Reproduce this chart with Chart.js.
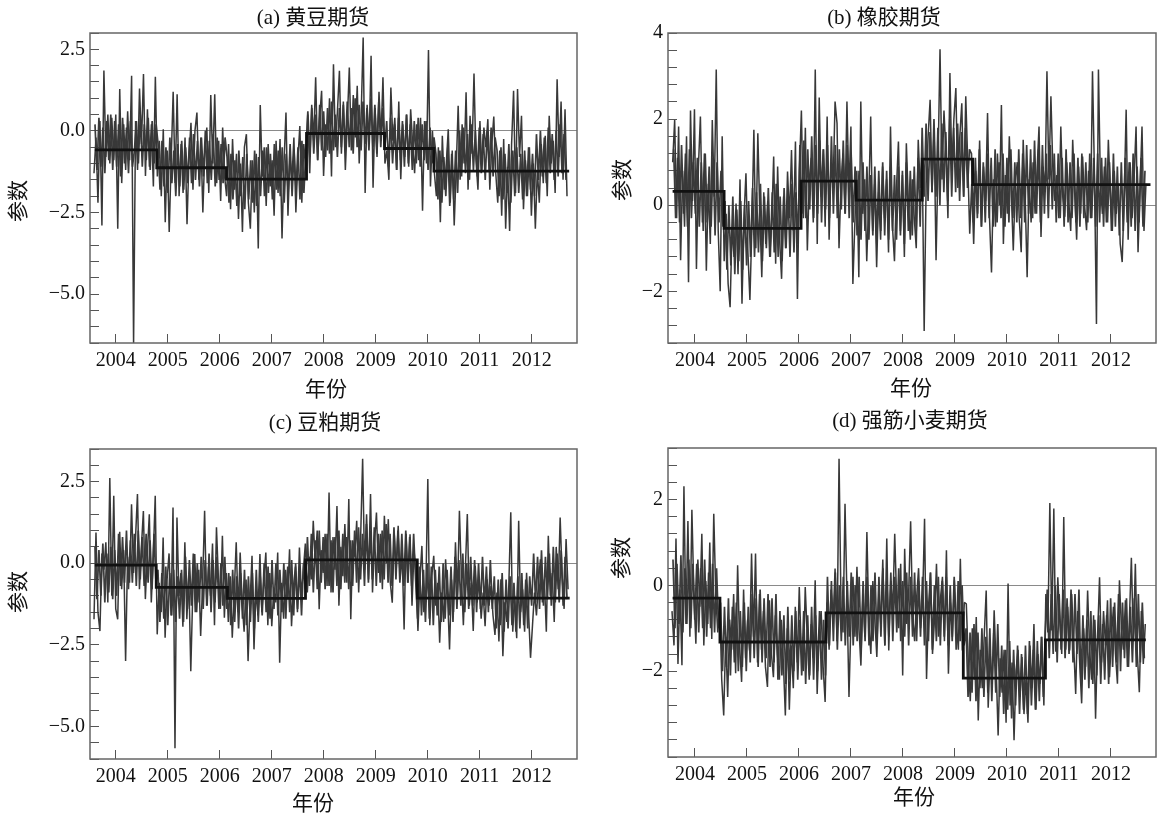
<!DOCTYPE html>
<html>
<head>
<meta charset="utf-8">
<script src="https://cdn.jsdelivr.net/npm/chart.js@4.4.1/dist/chart.umd.min.js"></script>
<style>
  body { margin: 0; background: #fff; width: 1163px; height: 814px; position: relative; overflow: hidden;
         font-family: 'Liberation Serif', 'Noto Sans CJK SC', serif; color: #111; }
  canvas { position: absolute; left: 0; top: 0; }
  .t { position: absolute; transform: translate(-50%, -50%); white-space: nowrap; font-size: 21px; line-height: 1; }
  .r { transform: translate(-50%, -50%) rotate(-90deg); }
</style>
</head>
<body>
<canvas id="ca" width="1163" height="814"></canvas>
<canvas id="cb" width="1163" height="814"></canvas>
<canvas id="cc" width="1163" height="814"></canvas>
<canvas id="cd" width="1163" height="814"></canvas>

<div class="t" style="left:313px;top:17px">(a) 黄豆期货</div>
<div class="t" style="left:884px;top:17px">(b) 橡胶期货</div>
<div class="t" style="left:325px;top:422px">(c) 豆粕期货</div>
<div class="t" style="left:910px;top:420px">(d) 强筋小麦期货</div>

<div class="t" style="left:326px;top:389px">年份</div>
<div class="t" style="left:911px;top:388px">年份</div>
<div class="t" style="left:313px;top:803px">年份</div>
<div class="t" style="left:914px;top:797px">年份</div>

<div class="t r" style="left:18px;top:201px">参数</div>
<div class="t r" style="left:622px;top:180px">参数</div>
<div class="t r" style="left:18px;top:592px">参数</div>
<div class="t r" style="left:621px;top:558px">参数</div>

<script>
// year tick labels shared by all four panels
const years = [2004, 2005, 2006, 2007, 2008, 2009, 2010, 2011, 2012];

// (a) 黄豆期货 - parameter series, outer swings (evenly spaced in time)
const soyVals = [
  -1.3, -0.2, -2.2, 0.3, -2.9, 1.85, -0.8, 0.5, -1.0, 0.4,
  -0.9, 0.5, -3.0, 1.28, -1.6, 0.2, -1.2, 0.6, -0.9, 1.69,
  -6.5,
  0.3, -1.2, 1.3, -0.4, 1.74, -1.38, 0.66, -1.1, 0.2, -1.7, 1.66,
  -1.4, -0.3, -2.0, 0.05, -2.8, -0.6, -3.1, -0.9, 1.2, -1.6, 1.12, -2.0, -0.4, -1.9, -0.2, -2.86,
  -0.8, 0.25, -1.8, 0.0, 0.56, -1.5, -0.2, -2.5, -0.6, 0.1, -1.9, 1.1, -1.0, 1.12, -1.6, -0.3, -2.15, 0.1, -1.4,
  -2.0, -0.4, -2.4, -0.25, -1.8, -0.7, -2.7, -1.0, -3.1, -0.5, -0.1, -2.2, -3.0, -0.9, -2.5, -0.7, -3.6, 0.79,
  -1.4, -0.5, -2.3, -0.4, -1.7, -0.9, -2.6, -0.3, -1.9, -0.25, -3.3, -1.0, 0.56, -2.6, -0.8, -1.5, -0.2, -2.5, -0.9, 0.15, -2.2, -0.4, -1.2,
  0.5, -1.3, 0.8, -0.3, 1.64, -0.9, 0.4, 1.23, -1.38, 0.2, -0.6, 1.0, -1.4, 2.04, -0.5, 0.6, 1.84, -0.7,
  0.9, -1.2, 0.3, 1.94, -0.6, 1.1, -0.2, 1.38, -1.0, 0.5, 2.86, -1.9, 0.8, -0.4, 2.3, -1.74, 0.7, -0.8, 1.2, -0.3, 1.64, -1.0,
  -0.6, -1.5, 1.33, -0.3, 0.4, -1.2, 0.9, -1.48, 0.2, -0.8, 0.5, -1.1, 0.66, -0.4, -1.3, 0.2, -0.9, 0.4, -2.45, 0.3, -1.0, 2.48, -1.7, 0.0, -1.3,
  -2.0, -0.5, -2.8, -0.15, -1.8, -1.0, 0.05, -2.2, -0.6, -2.9, -1.2, 0.77,
  -1.5, 0.2, -1.0, 1.18, -1.8, 0.46, -0.7, 1.76, -0.9, -1.8, 0.3, -1.2, 0.1, -0.5, 0.36, -1.8, -0.4, 0.44, -1.3,
  -2.2, -0.6, -2.6, -0.25, -3.0, -1.1, -3.07, -0.4, 1.23, -1.9, 1.28, -0.8, 0.46, -2.4, -0.9, -2.0, -0.5, -2.6, -1.0, -3.0,
  -1.2, -2.2, -0.4, -1.6, -0.15, -2.0, 0.46, -1.0, -0.3, -1.9, 1.58, -0.8, 0.9, -1.5, 0.66, -2.0
];
// dense core of the band (readings in between)
const soyCore = [
  0.2, -1.2, 0.4, -1.1, 0.1, -1.3, 0.3, -0.9, 0.5, -1.2,
  0.3, -1.1, 0.2, -1.4, 0.4, -1.0, 0.1, -1.3, 0.3, -1.1,
  -0.6,
  0.3, -1.0, 0.5, -1.1, 0.2, -0.9, 0.4, -1.2, 0.3, -1.0, 0.2,
  -0.4, -1.8, -0.3, -1.7, -0.5, -1.9, -0.2, -1.6, -0.6, -2.0, -0.4, -1.7, -0.3, -1.8, -0.5, -1.6,
  -0.2, -1.6, -0.1, -1.5, -0.3, -1.7, -0.2, -1.4, 0.0, -1.6, -0.3, -1.5, -0.1, -1.7, -0.2, -1.5, -0.4, -1.6, -0.2,
  -0.8, -2.2, -0.7, -2.1, -0.9, -2.3, -0.6, -2.0, -0.8, -2.4, -0.7, -2.1, -0.9, -2.2, -0.6, -2.3, -0.8, -2.0,
  -0.6, -2.0, -0.5, -1.9, -0.7, -2.1, -0.4, -1.8, -0.6, -2.0, -0.5, -2.2, -0.7, -1.9, -0.4, -2.0, -0.6, -1.8, -0.5, -2.1, -0.3, -1.9, -0.6,
  0.6, -0.8, 0.7, -0.7, 0.5, -0.9, 0.8, -0.6, 0.6, -0.8, 0.7, -0.7, 0.9, -0.6, 0.5, -0.8, 0.7, -0.5,
  0.8, -0.6, 0.9, -0.5, 0.7, -0.7, 1.0, -0.5, 0.8, -0.6, 0.9, -0.4, 0.7, -0.6, 1.0, -0.5, 0.8, -0.7, 0.9, -0.5, 0.7, -0.6,
  0.3, -1.1, 0.4, -1.0, 0.2, -1.2, 0.4, -0.9, 0.3, -1.1, 0.5, -1.0, 0.2, -1.2, 0.3, -1.0, 0.4, -1.1, 0.2, -0.9, 0.3, -1.2, 0.1, -1.0, -0.2,
  -0.7, -2.1, -0.6, -2.2, -0.8, -2.0, -0.5, -2.3, -0.7, -2.1, -0.6, -1.9,
  0.0, -1.4, 0.1, -1.3, -0.1, -1.5, 0.2, -1.2, 0.0, -1.4, 0.1, -1.3, -0.1, -1.5, 0.0, -1.2, 0.1, -1.4, -0.2,
  -0.6, -2.0, -0.5, -2.1, -0.7, -1.9, -0.4, -2.2, -0.6, -2.0, -0.5, -1.9, -0.7, -2.1, -0.6, -2.0, -0.5, -1.8, -0.7, -2.0,
  -0.1, -1.5, 0.0, -1.4, -0.2, -1.6, 0.1, -1.3, -0.1, -1.5, 0.0, -1.4, 0.2, -1.3, -0.1, -1.5
];
const soySpan = [2003.583, 2012.679];
const soyCoreSpan = [2003.602, 2012.660];
const soyStepX = [2003.60, 2004.79, 2006.13, 2007.67, 2009.17, 2010.12, 2012.72];
const soyStepY = [-0.58, -1.13, -1.48, -0.08, -0.54, -1.23];

// (b) 橡胶期货
const rubberVals = [
  1.0, 1.98, -0.3, 1.83, -1.28, 0.8, -0.5, 1.6, -1.79, 2.2, 0.1, 2.23,
  -1.48, 0.9, 2.06, -0.4, 1.2, -1.52, 0.5, -0.9, 1.98, 0.2, 3.15, -0.6, -2.0, 1.6,
  -1.3, -0.2, -1.83, -2.37, -0.5, -1.2, 0.04, -1.6, 0.6, -2.29, -0.3, 0.74, -1.1, -2.2,
  -0.5, 1.75, -1.0, 1.67, -0.2, -1.67, 0.3, -0.9, 0.1, -1.2, -0.4, 1.13, -1.36, 0.9, -0.8, -1.71, 0.2, -1.0, 0.78, -0.3, 1.28, -0.6, 1.48, -2.18,
  0.8, 2.2, -0.3, 1.8, -1.05, 0.6, 1.1, -0.4, 3.15, -0.9, 2.5, 0.2, 1.3, -0.5, 2.06, -0.8, 1.0, 0.4, 2.41, 1.9, -1.0, 0.5, 1.2, -0.2, 2.41, 0.3, 1.83, -1.83,
  -0.4, 0.8, -1.67, 2.41, -0.2, 0.6, -1.3, 0.1, 2.06, -0.6, 0.5, -1.44, 0.3, -0.8, 0.9, -0.3, 0.6, -1.1, 1.83, -0.5, -1.3, 0.4, 1.48, -0.6, 0.7, -1.2, 1.44, 0.1, -0.8, 0.6, -0.3, -1.0, 1.52, 0.4,
  1.2, -2.92, 0.5, 1.6, 2.45, 0.3, 1.8, -1.28, 1.0, 3.62, 0.6, 2.2, 1.2, -0.3, 3.07, 0.8, 2.0, 2.72, 0.4, 1.6, 2.37, 0.2, 2.53, 1.0, -0.66,
  0.5, -0.9, 0.8, -0.2, 1.5, -0.5, 0.9, 0.1, 2.14, -0.3, -1.56, 0.6, -0.5, 1.2, 0.0, 2.33, -0.9, 0.7, -0.2, 1.6, 0.3, -1.05, 0.5, 1.0,
  -0.3, -1.09, 1.52, 0.2, -1.67, 0.6, -0.4, 1.0, -0.2, 0.8, 1.83, -0.74, 0.9, 0.3, 3.11, 0.6, 2.53, 0.8, 0.1,
  0.7, -0.3, 1.83, 0.2, -0.27, 1.0, 0.1, -0.6, 1.52, 0.3, -0.8, 0.9, -0.2, 1.13, 0.0, -0.58, 0.8, -0.3, 3.11, 0.7, -2.76, 3.15, 0.5, -0.2,
  0.9, -0.4, 1.52, 0.3, -0.6, 0.8, -0.2, 0.5, -0.9, -1.32, 0.2, 2.22, -0.8, 1.0, -0.3, 0.6, 1.83, -1.09, 0.4, 1.83, -0.6, 0.5
];
const rubberCore = [
  1.3, -0.3, 1.1, -0.4, 1.4, -0.2, 1.2, -0.5, 1.3, -0.3, 1.0, -0.2,
  1.1, -0.5, 1.0, -0.6, 1.2, -0.4, 0.9, -0.5, 1.1, -0.7, 1.0, -0.4, 0.8, -0.5,
  0.1, -1.5, 0.0, -1.4, 0.2, -1.6, -0.1, -1.3, 0.1, -1.5, 0.0, -1.4, 0.1, -1.2,
  0.4, -1.2, 0.3, -1.1, 0.5, -1.3, 0.2, -1.0, 0.4, -1.2, 0.3, -1.1, 0.5, -1.2, 0.2, -1.3, 0.4, -1.0, 0.3, -1.2, 0.5, -1.1, 0.3, -0.9,
  1.4, -0.2, 1.5, -0.3, 1.3, -0.1, 1.6, -0.3, 1.4, -0.2, 1.5, -0.4, 1.3, -0.1, 1.4, -0.3, 1.6, -0.2, 1.4, -0.3, 1.3, -0.1, 1.5, -0.2, 1.4, -0.3, 1.2, -0.4,
  0.9, -0.7, 0.8, -0.8, 1.0, -0.6, 0.9, -0.8, 0.7, -0.7, 0.9, -0.9, 0.8, -0.6, 1.0, -0.7, 0.8, -0.8, 0.9, -0.6, 0.7, -0.8, 0.9, -0.7, 0.8, -0.9, 1.0, -0.6, 0.8, -0.7, 0.9, -0.6, 1.1, -0.5,
  1.8, 0.2, 1.9, 0.1, 1.7, 0.3, 2.0, 0.2, 1.8, 0.0, 1.9, 0.3, 1.7, 0.1, 2.0, 0.2, 1.8, 0.3, 1.9, 0.1, 1.7, 0.2, 1.8, 0.4, 1.3,
  1.2, -0.4, 1.1, -0.3, 1.3, -0.5, 1.0, -0.4, 1.2, -0.3, 1.1, -0.5, 1.3, -0.4, 1.0, -0.3, 1.2, -0.5, 1.1, -0.4, 1.3, -0.3, 1.0, -0.4,
  1.3, -0.3, 1.2, -0.4, 1.4, -0.2, 1.3, -0.3, 1.5, -0.2, 1.3, -0.4, 1.4, -0.2, 1.2, -0.3, 1.4, -0.1, 1.2,
  -0.4, 1.2, -0.3, 1.1, -0.5, 1.3, -0.4, 1.0, -0.3, 1.2, -0.4, 1.1, -0.5, 1.2, -0.3, 1.0, -0.4, 1.2, -0.3, 1.1, -0.5, 1.2, -0.4, 1.1,
  -0.5, 1.1, -0.4, 1.0, -0.6, 1.2, -0.5, 0.9, -0.7, 1.0, -0.6, 1.1, -0.4, 1.0, -0.5, 1.2, -0.6, 0.9, -0.4, 1.1, -0.5, 0.8
];
const rubberSpan = [2003.571, 2012.673];
const rubberCoreSpan = [2003.590, 2012.654];
const rubberStepX = [2003.57, 2004.56, 2006.04, 2007.10, 2008.37, 2009.34, 2012.76];
const rubberStepY = [0.32, -0.54, 0.56, 0.12, 1.07, 0.48];

// (c) 豆粕期货
const mealVals = [
  -1.72, 0.94, -1.5, -2.08, 0.3, -0.2, 0.64, -1.2, 2.61, -1.0, 2.07, -1.4,
  -1.72, 0.96, -0.8, 0.4, -3.0, 0.2, -0.6, 1.81, -0.3, 0.74, 2.12, -0.8, 0.5, 1.6, -1.1, 0.3, 1.5, -1.2, 0.2, 2.07,
  -2.18, -0.6, -1.5, 0.79, -2.28, -0.5, 0.3, -1.6, 1.71, -5.67, 1.4, -1.0, -0.3, -1.95,
  0.64, -1.72, -0.4, -3.31, -0.9, 0.28, -1.5, -0.2, -2.23, -0.6, 1.61, -1.3, -0.1, -1.0, 0.6, -1.9, 1.1, -0.5, -1.4, 0.84, -1.67, -0.3,
  -1.8, -0.4, -2.28, -0.9, 0.64, -1.5, 0.33, -1.2, -2.1, -0.5, -3.0, -1.2, 0.23, -2.64, -0.8, -1.6, 0.28,
  -1.5, -0.5, 0.33, -1.9, -0.3, -1.93, -0.8, -1.2, 0.33, -3.05, -0.6, -1.7, -0.2, -1.1, 0.43, -1.93, -0.7, -0.1, -1.5, 0.48, -1.0, -0.2,
  0.6, -0.9, 0.2, -0.5, 1.3, 0.0, 1.0, -1.41, 0.4, -0.3, 0.9, -0.7, 2.17, -0.9, 0.8, -0.2, 1.75, -1.3, 0.5, -0.4, 1.2, -0.6, 1.97, -1.72, 0.7,
  0.2, 1.3, -0.9, 0.8, 3.2, -0.2, 1.5, -0.5, 2.12, -0.9, 0.6, 1.55, -0.3, 0.9, -0.8, 1.45, 0.0, 1.35, -0.6, -1.21, 0.9, -0.2, 1.15, -0.5, 0.3, -2.03, 0.9, -0.6, 0.89, -1.3, 0.4, -0.3,
  -2.08, -0.5, 0.53, -1.5, -0.8, 2.58, -1.9, -0.4, 0.23, -1.3, -0.6, -2.44, -0.9, -1.8, 0.12, -1.0, -2.64, -0.5, -1.5,
  0.64, -1.0, 1.61, -0.4, -1.9, -0.2, 1.51, -1.3, -0.6, -2.08, -0.08, -1.2, -0.5, -1.7, -0.9, -1.93, -0.49, -1.3, -0.7, -1.6,
  -2.2, -0.9, -2.4, -0.49, -2.85, -1.2, -1.8, -0.7, 1.56, -2.1, -1.0, -2.3, 1.3, -1.5, -0.8, -2.1, -0.29, -1.5, -2.9,
  -1.9, -0.9, -1.6, -0.6, 0.12, -1.2, -0.5, -2.1, 0.84, -1.0, -0.3, -1.8, 0.5, -0.8, 1.4, -0.4, -1.4, 0.74, -0.8
];
const mealCore = [
  0.5, -1.1, 0.4, -1.0, 0.6, -1.2, 0.3, -0.9, 0.5, -1.1, 0.4, -1.0,
  0.9, -0.7, 0.8, -0.6, 1.0, -0.8, 0.7, -0.6, 0.9, -0.7, 1.0, -0.5, 0.8, -0.7, 0.9, -0.6, 0.7, -0.8, 0.9, -0.6,
  -0.2, -1.8, -0.3, -1.7, -0.1, -1.9, -0.3, -1.6, -0.2, -1.8, -0.4, -1.7, -0.2, -1.8,
  0.2, -1.4, 0.1, -1.3, 0.3, -1.5, 0.0, -1.2, 0.2, -1.4, 0.1, -1.3, 0.3, -1.5, 0.1, -1.2, 0.2, -1.4, 0.0, -1.3, 0.2, -1.4,
  -0.3, -1.9, -0.2, -1.8, -0.4, -2.0, -0.3, -1.7, -0.2, -1.9, -0.4, -1.8, -0.3, -2.0, -0.2, -1.8, -0.4,
  -1.6, 0.0, -1.5, -0.1, -1.7, 0.1, -1.4, 0.0, -1.6, -0.2, -1.5, 0.0, -1.7, -0.1, -1.5, 0.1, -1.6, 0.0, -1.4, -0.1, -1.6, 0.0,
  -0.8, 0.8, -0.7, 0.9, -0.9, 0.7, -0.8, 1.0, -0.6, 0.8, -0.8, 0.9, -0.7, 0.7, -0.9, 0.8, -0.7, 1.0, -0.8, 0.9, -0.6, 0.8, -0.8, 0.7, -0.7,
  1.0, -0.6, 1.1, -0.5, 0.9, -0.7, 1.2, -0.6, 1.0, -0.5, 1.1, -0.7, 0.9, -0.6, 1.0, -0.5, 1.2, -0.6, 0.9, -0.7, 1.1, -0.5, 1.0, -0.6, 0.9, -0.7, 1.0, -0.6, 0.8, -0.7, 0.9, -0.5,
  -1.7, -0.1, -1.6, -0.2, -1.8, 0.0, -1.7, -0.1, -1.9, -0.2, -1.6, -0.1, -1.8, 0.0, -1.7, -0.2, -1.6, -0.1, -1.8,
  0.2, -1.4, 0.1, -1.3, 0.3, -1.5, 0.0, -1.4, 0.2, -1.3, 0.1, -1.5, 0.0, -1.4, 0.2, -1.3, -0.1, -1.5, 0.1, -1.4,
  -0.4, -2.0, -0.5, -1.9, -0.3, -2.1, -0.5, -2.0, -0.4, -1.9, -0.6, -2.1, -0.4, -2.0, -0.3, -1.9, -0.5, -2.0, -0.4,
  -1.3, 0.3, -1.2, 0.2, -1.4, 0.4, -1.3, 0.2, -1.1, 0.3, -1.3, 0.5, -1.2, 0.3, -1.2, 0.4, -1.3, 0.2, -1.1
];
const mealSpan = [2003.583, 2012.699];
const mealCoreSpan = [2003.602, 2012.680];
const mealStepX = [2003.60, 2004.78, 2006.15, 2007.65, 2009.80, 2012.73];
const mealStepY = [-0.06, -0.74, -1.08, 0.10, -1.07];

// (d) 强筋小麦期货
const wheatVals = [
  -0.6, -1.4, 1.09, -1.83, -0.1, -1.86, 2.31, -0.9, 1.5, -1.2, 1.76, -0.2,
  -1.36, 0.6, -0.5, 1.2, -1.4, 0.1, -0.9, 1.0, -1.25, 1.67, -0.2, -1.1,
  -0.4, -2.2, -3.03, -1.2, -2.6, -0.8, -1.5, -0.2, -2.05, 0.47, -1.4, -2.25, -0.1, -1.7, -0.8,
  -1.52, 0.74, -1.2, 0.74, -1.8, -0.2, -1.5, -0.6, -1.9, -2.37, -0.35, -1.6, -2.14, -0.7,
  -1.6, -2.2, -0.8, -1.8, -3.03, -1.0, -2.9, -1.4, -2.4, -0.5, -1.8, -0.04, -1.5, -2.0, -0.04, -1.2, -2.2, -0.9, -1.7, 0.12, -2.53, -1.1, -0.6, -1.9, -2.72,
  -0.4, -1.5, -0.1, -0.9, 0.39, -1.3, 2.95, -0.5, -1.1, 1.9, -0.3, -2.6, -0.8, 0.2, -1.2, 0.43, -1.0, -1.87, -0.2, -1.2, 1.24, -0.9, -1.6, 0.1,
  -0.8, -1.67, -0.2, -0.9, 0.6, -1.4, 1.09, -1.52, 0.1, -0.6, 1.2, -0.4, -1.0, 0.5, -2.1, 0.85, -0.9, -0.2, 1.49, -0.7, -1.3, -0.3, 0.4, -1.0,
  -0.4, 1.55, -2.18, -0.5, 0.3, -1.6, -0.8, 0.5, -1.2, -0.3, 0.2, -1.3, 0.82, -2.06, -0.4, -1.2, 0.12, -0.9, -1.5, 0.62, -1.52, -0.4,
  -0.43, -1.8, -2.7, -1.0, -2.2, -0.74, -3.15, -1.5, -2.4, -1.2, -0.12, -2.85, -1.6, -2.3, -0.58, -1.9, -3.5, -1.7,
  -2.5, -1.5, -3.2, 0.04, -2.8, -1.8, -3.61, -2.0, -1.5, -2.6, -1.67, -3.0, -2.2, -3.2, -1.4, -2.4, -0.9, -2.9, -1.6, -2.3, -1.2, -2.8, -0.2,
  -1.1, 1.92, -1.05, 1.79, -1.55, 0.19, -0.8, -1.6, 1.59, -1.5, -0.5, -1.52, -0.2, -1.4, -2.53, -0.6, -1.8,
  -2.75, -1.0, -1.9, -0.12, -1.5, -2.2, -0.7, -3.11, -1.2, 0.19, -1.8, -0.6, -1.4, -0.35, -2.14,
  -1.2, -0.5, -1.6, -2.29, 0.12, -1.0, -1.5, -0.35, -1.9, -0.8, 0.64, -1.3, 0.5, -1.6, -2.49, -0.6, -1.83, -0.9
];
const wheatCore = [
  0.6, -1.0, 0.5, -0.9, 0.7, -1.1, 0.4, -0.9, 0.6, -1.0, 0.5, -0.8,
  0.5, -1.1, 0.4, -1.0, 0.6, -1.2, 0.3, -1.0, 0.5, -1.1, 0.4, -1.0,
  -0.4, -2.0, -0.5, -1.9, -0.3, -2.1, -0.5, -1.8, -0.4, -2.0, -0.6, -1.9, -0.4, -2.0, -0.5,
  -1.8, -0.2, -1.7, -0.3, -1.9, -0.1, -1.8, -0.3, -1.7, -0.2, -1.9, -0.3, -1.8, -0.2,
  -2.2, -0.6, -2.1, -0.7, -2.3, -0.5, -2.2, -0.7, -2.0, -0.6, -2.2, -0.8, -2.1, -0.6, -2.3, -0.7, -2.1, -0.5, -2.2, -0.7, -2.0, -0.6, -2.2, -0.8, -2.1,
  0.2, -1.4, 0.1, -1.3, 0.3, -1.5, 0.0, -1.3, 0.2, -1.4, 0.1, -1.2, 0.3, -1.4, 0.0, -1.3, 0.2, -1.5, 0.1, -1.3, 0.2, -1.4, 0.0, -1.3,
  0.3, -1.3, 0.2, -1.2, 0.4, -1.4, 0.1, -1.2, 0.3, -1.3, 0.2, -1.1, 0.4, -1.3, 0.1, -1.2, 0.3, -1.4, 0.2, -1.2, 0.3, -1.3, 0.1, -1.2,
  0.2, -1.4, 0.1, -1.3, 0.3, -1.5, 0.0, -1.3, 0.2, -1.4, 0.1, -1.2, 0.2, -1.4, 0.0, -1.3, 0.2, -1.5, 0.1, -1.3, 0.0, -1.4,
  -1.0, -2.6, -1.1, -2.5, -0.9, -2.7, -1.1, -2.4, -1.0, -2.6, -1.2, -2.5, -1.0, -2.7, -1.1, -2.5, -0.9, -2.6,
  -1.4, -3.0, -1.5, -2.9, -1.3, -3.1, -1.5, -2.8, -1.4, -3.0, -1.6, -2.9, -1.4, -3.0, -1.3, -2.8, -1.5, -2.9, -1.3, -2.7, -1.2, -2.6, -1.1,
  -0.1, -1.7, -0.2, -1.6, 0.0, -1.8, -0.2, -1.5, -0.1, -1.7, -0.3, -1.6, -0.1, -1.8, -0.2, -1.6, -0.1,
  -2.3, -0.7, -2.2, -0.8, -2.4, -0.6, -2.3, -0.8, -2.1, -0.7, -2.3, -0.9, -2.2, -0.7, -2.3,
  -0.3, -1.9, -0.4, -1.8, -0.2, -2.0, -0.4, -1.7, -0.3, -1.9, -0.5, -1.8, -0.3, -1.9, -0.2, -1.8, -0.4, -1.7
];
const wheatSpan = [2003.558, 2012.66];
const wheatCoreSpan = [2003.577, 2012.641];
const wheatStepX = [2003.57, 2004.48, 2006.52, 2009.16, 2010.74, 2012.67];
const wheatStepY = [-0.30, -1.32, -0.64, -2.16, -1.27];

Chart.defaults.font.family = "'Liberation Serif', 'Times New Roman', serif";
Chart.defaults.font.size = 20;
Chart.defaults.color = '#111';

const W = 1163, H = 814;

const frame = {
  id: 'frame',
  afterDraw(chart) {
    const a = chart.chartArea, ctx = chart.ctx;
    ctx.save();
    ctx.strokeStyle = '#666';
    ctx.lineWidth = 1.5;
    ctx.strokeRect(a.left, a.top, a.right - a.left, a.bottom - a.top);
    ctx.restore();
  }
};

// spread the readings evenly over the sampled period
function toPoints(vals, span) {
  const n = vals.length;
  return vals.map((v, i) => ({ x: span[0] + (span[1] - span[0]) * i / (n - 1), y: v }));
}

function stepPoints(xs, ys) {
  const pts = ys.map((y, i) => ({ x: xs[i], y: y }));
  pts.push({ x: xs[xs.length - 1], y: ys[ys.length - 1] });
  return pts;
}

function fmtLabel(every, dec) {
  return v => {
    const k = Math.round(v / every);
    if (Math.abs(v - k * every) > 1e-6) return '';
    const val = k * every;
    return (val < 0 ? '\u2212' : '') + Math.abs(val).toFixed(dec);
  };
}

function panel(id, area, xr, yr, yStep, yFmt, s) {
  new Chart(document.getElementById(id), {
    type: 'line',
    data: {
      datasets: [
        { data: stepPoints(s.sx, s.sy), borderColor: '#111', borderWidth: 2.8, stepped: 'before', pointRadius: 0 },
        { data: toPoints(s.vals, s.span), borderColor: '#383838', borderWidth: 1.5, borderJoinStyle: 'bevel',
          pointRadius: 0, tension: 0 },
        { data: toPoints(s.core, s.coreSpan), borderColor: '#3c3c3c', borderWidth: 1.7, borderJoinStyle: 'bevel',
          pointRadius: 0, tension: 0 }
      ]
    },
    options: {
      responsive: false,
      animation: false,
      layout: { padding: { left: 0, top: area.t, right: W - area.r, bottom: 0 } },
      plugins: { legend: { display: false }, tooltip: { enabled: false } },
      scales: {
        x: {
          type: 'linear', min: xr[0], max: xr[1],
          afterFit: sc => { sc.height = H - area.b; },
          border: { display: false },
          grid: { drawOnChartArea: false, tickLength: -9, tickColor: '#555', lineWidth: 1 },
          ticks: {
            stepSize: 1, includeBounds: false, autoSkip: false, maxRotation: 0, padding: 15,
            callback: v => (years.includes(v) ? String(v) : '')
          }
        },
        y: {
          min: yr[0], max: yr[1],
          afterFit: sc => { sc.width = area.l; },
          border: { display: false },
          grid: {
            drawOnChartArea: true, tickLength: -9, tickColor: '#555', lineWidth: 1,
            color: c => (c.tick && Math.abs(c.tick.value) < 1e-9 ? '#8a8a8a' : 'rgba(0,0,0,0)')
          },
          ticks: { stepSize: yStep, autoSkip: false, padding: 14, callback: yFmt }
        }
      }
    },
    plugins: [frame]
  });
}

panel('ca', { l: 90, t: 33, r: 577, b: 343 }, [2003.506, 2012.871], [-6.5, 3.0], 0.5, fmtLabel(2.5, 1),
      { vals: soyVals, span: soySpan, core: soyCore, coreSpan: soyCoreSpan, sx: soyStepX, sy: soyStepY });
panel('cb', { l: 668, t: 33, r: 1156, b: 343 }, [2003.481, 2012.866], [-3.2, 4.0], 0.4, fmtLabel(2, 0),
      { vals: rubberVals, span: rubberSpan, core: rubberCore, coreSpan: rubberCoreSpan, sx: rubberStepX, sy: rubberStepY });
panel('cc', { l: 90, t: 449, r: 577, b: 759 }, [2003.506, 2012.871], [-6.0, 3.5], 0.5, fmtLabel(2.5, 1),
      { vals: mealVals, span: mealSpan, core: mealCore, coreSpan: mealCoreSpan, sx: mealStepX, sy: mealStepY });
const wheatFmt = fmtLabel(2, 0);
panel('cd', { l: 668, t: 448, r: 1156, b: 757 }, [2003.481, 2012.866], [-4.0, 3.2], 0.4,
      v => (v < -3.99 ? '' : wheatFmt(v)),
      { vals: wheatVals, span: wheatSpan, core: wheatCore, coreSpan: wheatCoreSpan, sx: wheatStepX, sy: wheatStepY });
</script>
</body>
</html>
